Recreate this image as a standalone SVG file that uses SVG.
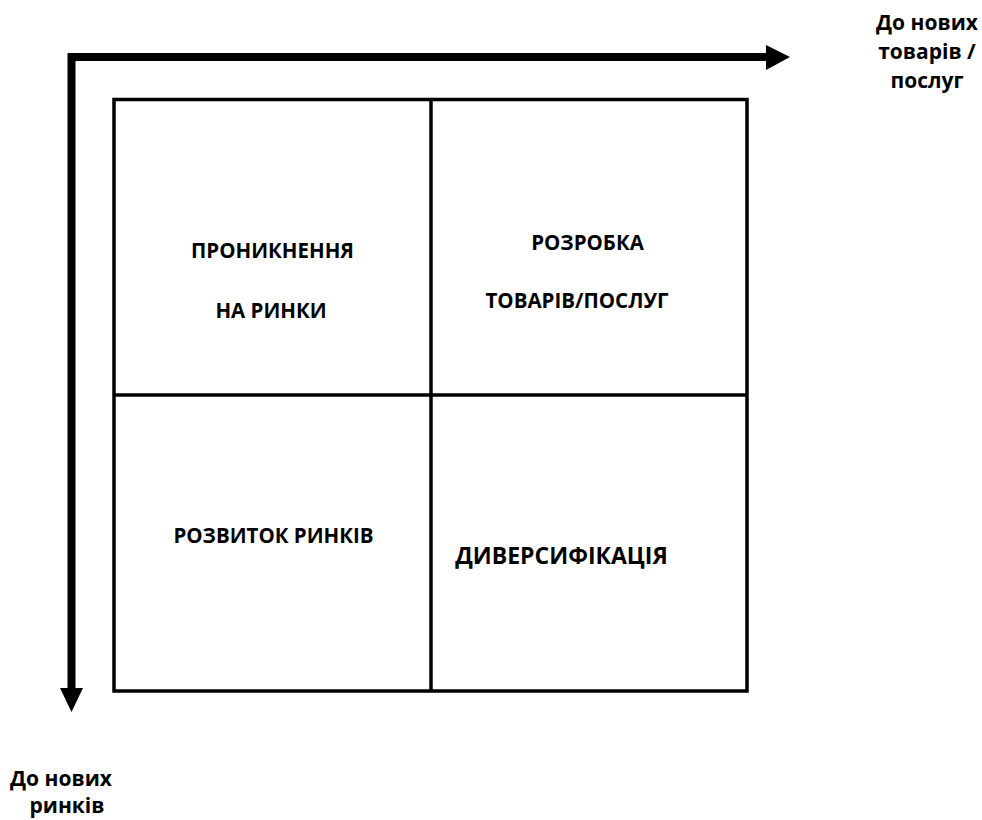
<svg xmlns="http://www.w3.org/2000/svg" width="982" height="820" viewBox="0 0 982 820">
<style>
.t{font-family:"Open Sans","Liberation Sans",sans-serif;font-weight:bold;fill:#000;text-anchor:middle}
.c{font-size:20.5px}
.a{font-size:21px}
.box{fill:none;stroke:#000;stroke-width:3.5}
.ax{fill:none;stroke:#000;stroke-width:8}
</style>
<rect width="982" height="820" fill="#fff"/>
<g id="connectors">
<path class="ax" d="M71.5 57 H768"/>
<polygon points="766,45 790,57 766,70" fill="#000"/>
<path class="ax" d="M71.5 53 V690"/>
<polygon points="60,688 83,688 71.5,712" fill="#000"/>
</g>
<g id="matrix">
<rect class="box" x="114" y="99.5" width="633" height="591.5"/>
<line class="box" x1="431" y1="99.5" x2="431" y2="691"/>
<line class="box" x1="114" y1="395" x2="747" y2="395"/>
</g>
<g id="q1"><text class="t c" x="272.5" y="258">ПРОНИКНЕННЯ</text><text class="t c" x="271" y="318">НА РИНКИ</text></g>
<g id="q2"><text class="t c" x="587.5" y="250">РОЗРОБКА</text><text class="t c" x="577" y="308">ТОВАРІВ/ПОСЛУГ</text></g>
<g id="q3"><text class="t c" x="273.5" y="543">РОЗВИТОК РИНКІВ</text></g>
<g id="q4"><text class="t" style="font-size:23px" x="561.5" y="564">ДИВЕРСИФІКАЦІЯ</text></g>
<g id="label-x"><text class="t a" x="927" y="30">До нових</text><text class="t a" x="927" y="59">товарів /</text><text class="t a" x="927" y="88">послуг</text></g>
<g id="label-y"><text class="t a" x="61" y="786">До нових</text><text class="t a" x="67" y="813">ринків</text></g>
</svg>
